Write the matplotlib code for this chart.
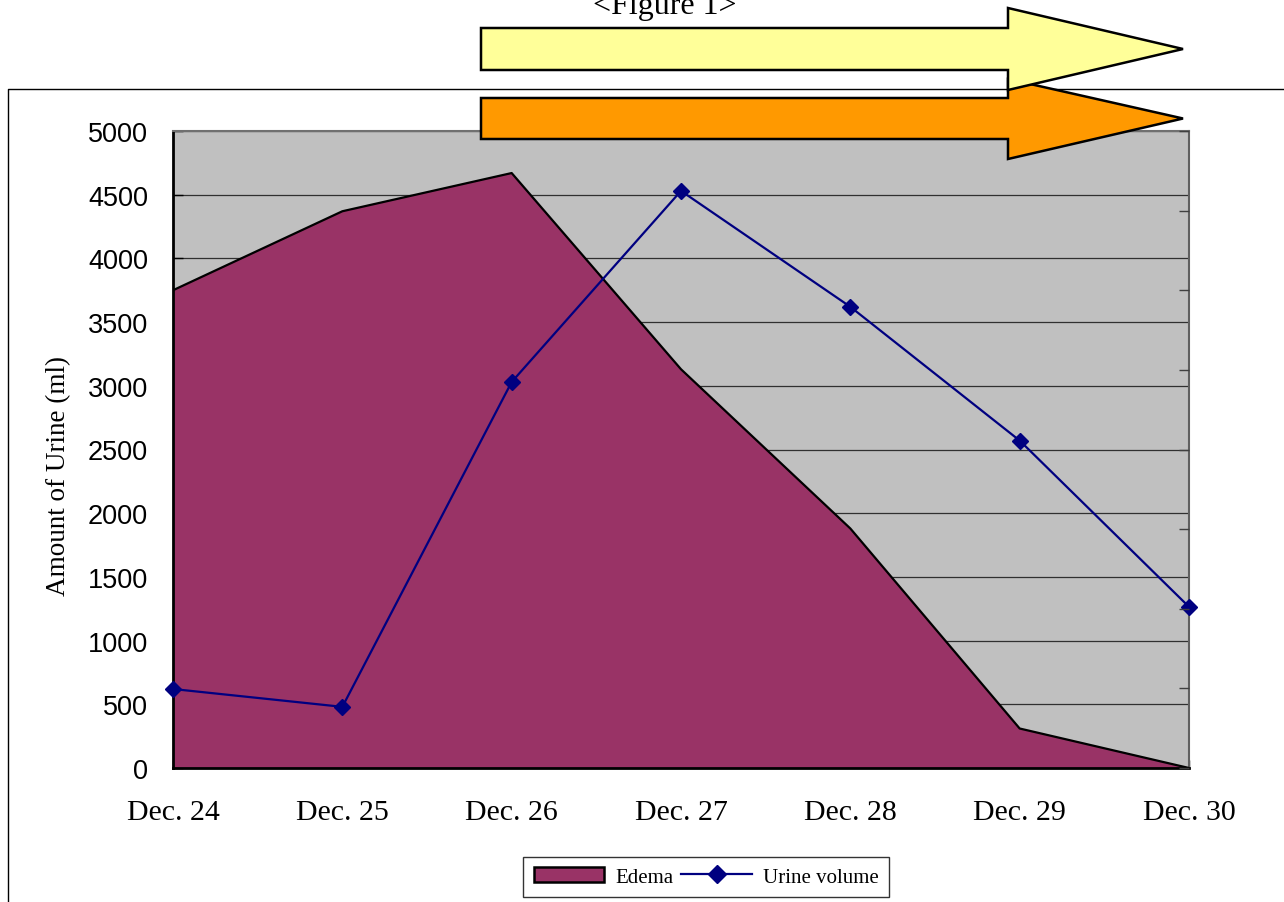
import numpy as np
from matplotlib import pyplot as plt
from matplotlib.patches import Polygon, Patch
from matplotlib.lines import Line2D

# values
dates = ['Dec. 24', 'Dec. 25', 'Dec. 26', 'Dec. 27', 'Dec. 28', 'Dec. 29', 'Dec. 30']
edema = [3750, 4370, 4670, 3130, 1880, 310, 0]
urine_volume = [620, 480, 3030, 4530, 3620, 2570, 1265]
y_ticks = np.arange(0, 5001, 500)

SERIF = ['Liberation Serif', 'DejaVu Serif']
SANS = ['Liberation Sans', 'DejaVu Sans']
W, H = 1284, 903

fig = plt.figure(figsize=(W / 100, H / 100), dpi=100)
ax = fig.add_axes([173 / W, 1 - 769 / H, 1016 / W, 637 / H])
ax.set_facecolor('#C0C0C0')

x = np.arange(len(dates))
ax.fill_between(x, edema, 0, facecolor='#993366', edgecolor='none', zorder=2)
ax.plot(x, edema, color='black', lw=1.6, zorder=3)
ax.plot(x, urine_volume, color='#000080', lw=1.6, marker='D', markersize=8,
        clip_on=False, zorder=4)

ax.set_xlim(0, len(dates) - 1)
ax.set_ylim(0, 5000)
ax.set_yticks(y_ticks)
ax.set_yticklabels([str(v) for v in y_ticks], fontfamily=SANS, fontsize=19.5)
ax.set_xticks(x)
ax.set_xticklabels(dates, fontfamily=SERIF, fontsize=21.5)
ax.tick_params(axis='y', direction='in', length=7, width=1, pad=18, colors='black')
ax.tick_params(axis='x', direction='in', length=6, width=1, pad=22)
ax.grid(axis='y', color='#303030', lw=0.9, zorder=1)
ax.set_axisbelow(True)

ax.set_ylabel('Amount of Urine (ml)', fontfamily=SERIF, fontsize=19.5)
ax.yaxis.set_label_coords((71 - 173) / 1016, 0.46)

for side in ['left', 'bottom']:
    ax.spines[side].set_linewidth(2)
    ax.spines[side].set_color('black')
ax.spines['top'].set_color('#707070')
ax.spines['top'].set_linewidth(1.5)
ax.spines['right'].set_color('#606060')
ax.spines['right'].set_linewidth(1.5)

# unlabeled secondary axis on the right
ax2 = ax.twinx()
ax2.set_ylim(0, 8)
ax2.set_yticks(np.arange(0, 9))
ax2.set_yticklabels([])
ax2.tick_params(axis='y', direction='in', length=7, width=1, colors='#404040')
for s in ax2.spines.values():
    s.set_visible(False)

leg_handles = [
    Patch(facecolor='#993366', edgecolor='black', lw=1.8, label='Edema'),
    Line2D([0], [0], color='#000080', lw=1.6, marker='D', markersize=9,
           label='Urine volume'),
]
fig.legend(handles=leg_handles, loc='lower center', bbox_to_anchor=(706 / W, 5 / H),
           ncol=2, frameon=True, fancybox=False, edgecolor='black',
           prop={'family': SERIF, 'size': 15}, handlelength=3.4,
           columnspacing=0.4, handletextpad=0.5, borderpad=0.5,
           borderaxespad=0)

# overlay in pixel coordinates for the frame, arrows and caption
ov = fig.add_axes([0, 0, 1, 1], zorder=10)
ov.set_xlim(0, W)
ov.set_ylim(H, 0)
ov.axis('off')
ov.plot([8, 8, W], [H, 90, 90], color='black', lw=1)


def arrow(x0, x1, xtip, y_top, y_bot, head_top, head_bot, color, z):
    mid = (y_top + y_bot) / 2
    pts = [(x0, y_top), (x1, y_top), (x1, head_top), (xtip, mid),
           (x1, head_bot), (x1, y_bot), (x0, y_bot)]
    ov.add_patch(Polygon(pts, closed=True, facecolor=color, edgecolor='black',
                         lw=1.8, joinstyle='miter', zorder=z))


arrow(481, 1008, 1183, 99, 140, 80, 160, '#FF9900', 2)
arrow(481, 1008, 1183, 29, 71, 9, 91, '#FFFF99', 3)

ov.text(665, 14, '<Figure 1>', ha='center', va='baseline', fontsize=23,
        fontfamily=SERIF)

fig.savefig('out.png', dpi=100)
